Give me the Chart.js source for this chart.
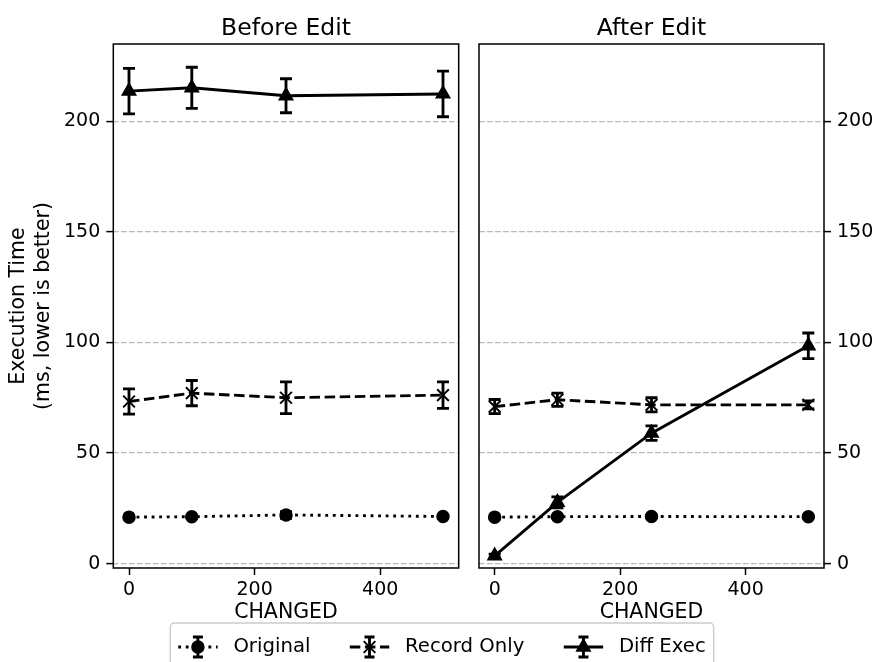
<!DOCTYPE html>
<html><head><meta charset="utf-8">
<script src="https://cdn.jsdelivr.net/npm/chart.js@4.4.1/dist/chart.umd.min.js"></script>
<style>
html,body{margin:0;padding:0;background:#fff;}
#wrap{position:relative;width:877px;height:662px;overflow:hidden;background:#fff;}
canvas{position:absolute;left:0;top:0;}
</style></head><body>
<div id="wrap"><canvas id="c1" width="877" height="662"></canvas><canvas id="c2" width="877" height="662"></canvas></div>
<script>
// ---------- data ----------
const changed = [0, 100, 250, 500];
const seriesNames = ['Original', 'Record Only', 'Diff Exec'];
const panelTitles = ['Before Edit', 'After Edit'];
const xLabel = 'CHANGED';
const yLabel = ['Execution Time', '(ms, lower is better)'];
const xTicks = [0, 200, 400];
const yTicks = [0, 50, 100, 150, 200];

const beforeOriginal    = [21.0, 21.2, 22.0, 21.3];
const beforeOriginalErr = [0.6, 0.6, 1.5, 0.6];
const beforeRecord      = [73.3, 77.1, 75.0, 76.2];
const beforeRecordErr   = [5.7, 5.7, 7.2, 6.0];
const beforeDiff        = [213.7, 215.2, 211.6, 212.4];
const beforeDiffErr     = [10.3, 9.3, 7.7, 10.3];

const afterOriginal     = [21.0, 21.2, 21.3, 21.2];
const afterOriginalErr  = [0.5, 0.5, 0.5, 0.5];
const afterRecord       = [71.0, 74.1, 71.8, 71.8];
const afterRecordErr    = [3.2, 3.0, 3.2, 1.8];
const afterDiff         = [3.5, 27.7, 59.0, 98.5];
const afterDiffErr      = [0.8, 2.5, 3.3, 5.8];

// ---------- styles ----------
const FONT = 'DejaVu Sans';
const TICK_FS = 19, LABEL_FS = 20.5, TITLE_FS = 23.5, LEGEND_FS = 19.7;
const LW = 2.85;
const CAP = 6;
Chart.defaults.font.family = FONT;
Chart.defaults.color = '#000';

const styles = [
  {dash: [2.85, 4.7], pointStyle: 'circle', radius: 5.8},
  {dash: [10.5, 4.6], pointStyle: 'crossRot', radius: 8.3},
  {dash: [], pointStyle: 'triangle', radius: 7.4}
];

function mkDataset(i, vals, errs) {
  const s = styles[i];
  return {
    label: seriesNames[i],
    data: changed.map((x, k) => ({x: x, y: vals[k]})),
    errors: errs,
    borderColor: '#000',
    backgroundColor: '#000',
    borderWidth: LW,
    borderDash: s.dash,
    borderCapStyle: 'butt',
    pointStyle: s.pointStyle,
    pointRadius: s.radius,
    pointBorderWidth: 1.9,
    pointBackgroundColor: '#000',
    pointBorderColor: '#000',
    tension: 0,
    fill: false
  };
}

const errorBarPlugin = {
  id: 'errbars',
  beforeDatasetsDraw(chart) {
    const ctx = chart.ctx, xs = chart.scales.x, ys = chart.scales.y;
    chart.data.datasets.forEach(ds => {
      if (!ds.errors) return;
      ctx.save();
      ctx.strokeStyle = '#000'; ctx.lineWidth = LW; ctx.setLineDash([]); ctx.lineCap = 'butt';
      ds.data.forEach((p, i) => {
        const x = xs.getPixelForValue(p.x);
        const y1 = ys.getPixelForValue(p.y - ds.errors[i]);
        const y2 = ys.getPixelForValue(p.y + ds.errors[i]);
        ctx.beginPath();
        ctx.moveTo(x, y1); ctx.lineTo(x, y2);
        ctx.moveTo(x - CAP, y1); ctx.lineTo(x + CAP, y1);
        ctx.moveTo(x - CAP, y2); ctx.lineTo(x + CAP, y2);
        ctx.stroke();
      });
      ctx.restore();
    });
  }
};

const framePlugin = {
  id: 'frame',
  afterDatasetsDraw(chart, args, opts) {
    const a = chart.chartArea, ctx = chart.ctx;
    ctx.save();
    ctx.strokeStyle = '#000'; ctx.lineWidth = 1.5; ctx.setLineDash([]);
    ctx.strokeRect(a.left, a.top, a.right - a.left, a.bottom - a.top);
    ctx.fillStyle = '#000';
    ctx.font = TITLE_FS + 'px "' + FONT + '"';
    ctx.textAlign = 'center'; ctx.textBaseline = 'alphabetic';
    ctx.fillText(opts.title, (a.left + a.right) / 2, 34.5);
    ctx.restore();
  }
};

const legendPlugin = {
  id: 'figlegend',
  afterDraw(chart, args, opts) {
    if (!opts.show) return;
    const ctx = chart.ctx;
    const fs = LEGEND_FS;
    ctx.save();
    ctx.font = fs + 'px "' + FONT + '"';
    const handleLen = 2 * fs, textPad = 0.8 * fs, colSpace = 2 * fs, borderPad = 0.4 * fs;
    const widths = seriesNames.map(n => ctx.measureText(n).width);
    let total = borderPad * 2 + colSpace * (seriesNames.length - 1);
    widths.forEach(w => total += handleLen + textPad + w);
    const cx = 442, top = 623, cy = 647;
    const left = cx - total / 2;
    ctx.fillStyle = 'rgba(255,255,255,0.8)';
    ctx.strokeStyle = '#cccccc'; ctx.lineWidth = 1.5;
    ctx.beginPath();
    if (ctx.roundRect) ctx.roundRect(left, top, total, 60, 4); else ctx.rect(left, top, total, 60);
    ctx.fill(); ctx.stroke();
    let x = left + borderPad;
    seriesNames.forEach((n, i) => {
      const ds = chart.data.datasets[i];
      const mx = x + handleLen / 2;
      ctx.strokeStyle = '#000'; ctx.lineWidth = LW; ctx.lineCap = 'butt';
      ctx.setLineDash(ds.borderDash);
      ctx.beginPath(); ctx.moveTo(x, cy); ctx.lineTo(x + handleLen, cy); ctx.stroke();
      ctx.setLineDash([]);
      ctx.beginPath();
      ctx.moveTo(mx, cy - 10); ctx.lineTo(mx, cy + 10);
      ctx.moveTo(mx - 5, cy - 10); ctx.lineTo(mx + 5, cy - 10);
      ctx.moveTo(mx - 5, cy + 10); ctx.lineTo(mx + 5, cy + 10);
      ctx.stroke();
      ctx.fillStyle = '#000'; ctx.lineWidth = 1.9;
      Chart.helpers.drawPoint(ctx, {pointStyle: ds.pointStyle, rotation: 0, radius: ds.pointRadius, borderWidth: 1.9}, mx, cy);
      ctx.fillStyle = '#000';
      ctx.textAlign = 'left'; ctx.textBaseline = 'middle';
      ctx.fillText(n, x + handleLen + textPad, cy);
      x += handleLen + textPad + widths[i] + colSpace;
    });
    ctx.restore();
  }
};

function makeScales(side) {
  return {
    x: {
      type: 'linear', min: -25, max: 525,
      afterBuildTicks: s => { s.ticks = xTicks.map(v => ({value: v})); },
      afterFit: s => { s.height = 57; },
      grid: {drawOnChartArea: false, drawTicks: true, tickLength: 7, tickColor: '#000', tickWidth: 1.5, tickBorderDash: []},
      border: {display: false},
      ticks: {color: '#000', font: {family: FONT, size: TICK_FS}, padding: 4, maxRotation: 0, autoSkip: false},
      title: {display: true, text: xLabel, color: '#000', font: {family: FONT, size: LABEL_FS, lineHeight: 1.2}, padding: 0}
    },
    y: {
      type: 'linear', position: side, min: -2, max: 235,
      afterBuildTicks: s => { s.ticks = yTicks.map(v => ({value: v})); },
      afterFit: s => { s.width = side === 'left' ? 106.6 : 50; },
      grid: {color: '#b8b8b8', lineWidth: 1.2, drawTicks: true, tickLength: 7, tickColor: '#000', tickWidth: 1.5, tickBorderDash: []},
      border: {display: false, dash: [5.6, 2.4]},
      ticks: {color: '#000', font: {family: FONT, size: TICK_FS}, padding: 6, autoSkip: false},
      title: side === 'left'
        ? {display: true, text: yLabel, color: '#000', font: {family: FONT, size: LABEL_FS, lineHeight: 1.2}, padding: 0}
        : {display: false}
    }
  };
}

function makeChart(id, side, title, sets, padding, showLegend) {
  return new Chart(document.getElementById(id), {
    type: 'line',
    data: {datasets: sets},
    options: {
      responsive: false, animation: false, devicePixelRatio: 1,
      layout: {padding: padding},
      plugins: {legend: {display: false}, tooltip: {enabled: false}, title: {display: false},
        frame: {title: title}, figlegend: {show: showLegend}},
      scales: makeScales(side)
    },
    plugins: [errorBarPlugin, framePlugin, legendPlugin]
  });
}

makeChart('c1', 'left', panelTitles[0], [
  mkDataset(0, beforeOriginal, beforeOriginalErr),
  mkDataset(1, beforeRecord, beforeRecordErr),
  mkDataset(2, beforeDiff, beforeDiffErr)
], {top: 44, left: 6.7, right: 418.3, bottom: 37}, false);

makeChart('c2', 'right', panelTitles[1], [
  mkDataset(0, afterOriginal, afterOriginalErr),
  mkDataset(1, afterRecord, afterRecordErr),
  mkDataset(2, afterDiff, afterDiffErr)
], {top: 44, left: 479, right: 3, bottom: 37}, true);
</script>
</body></html>
